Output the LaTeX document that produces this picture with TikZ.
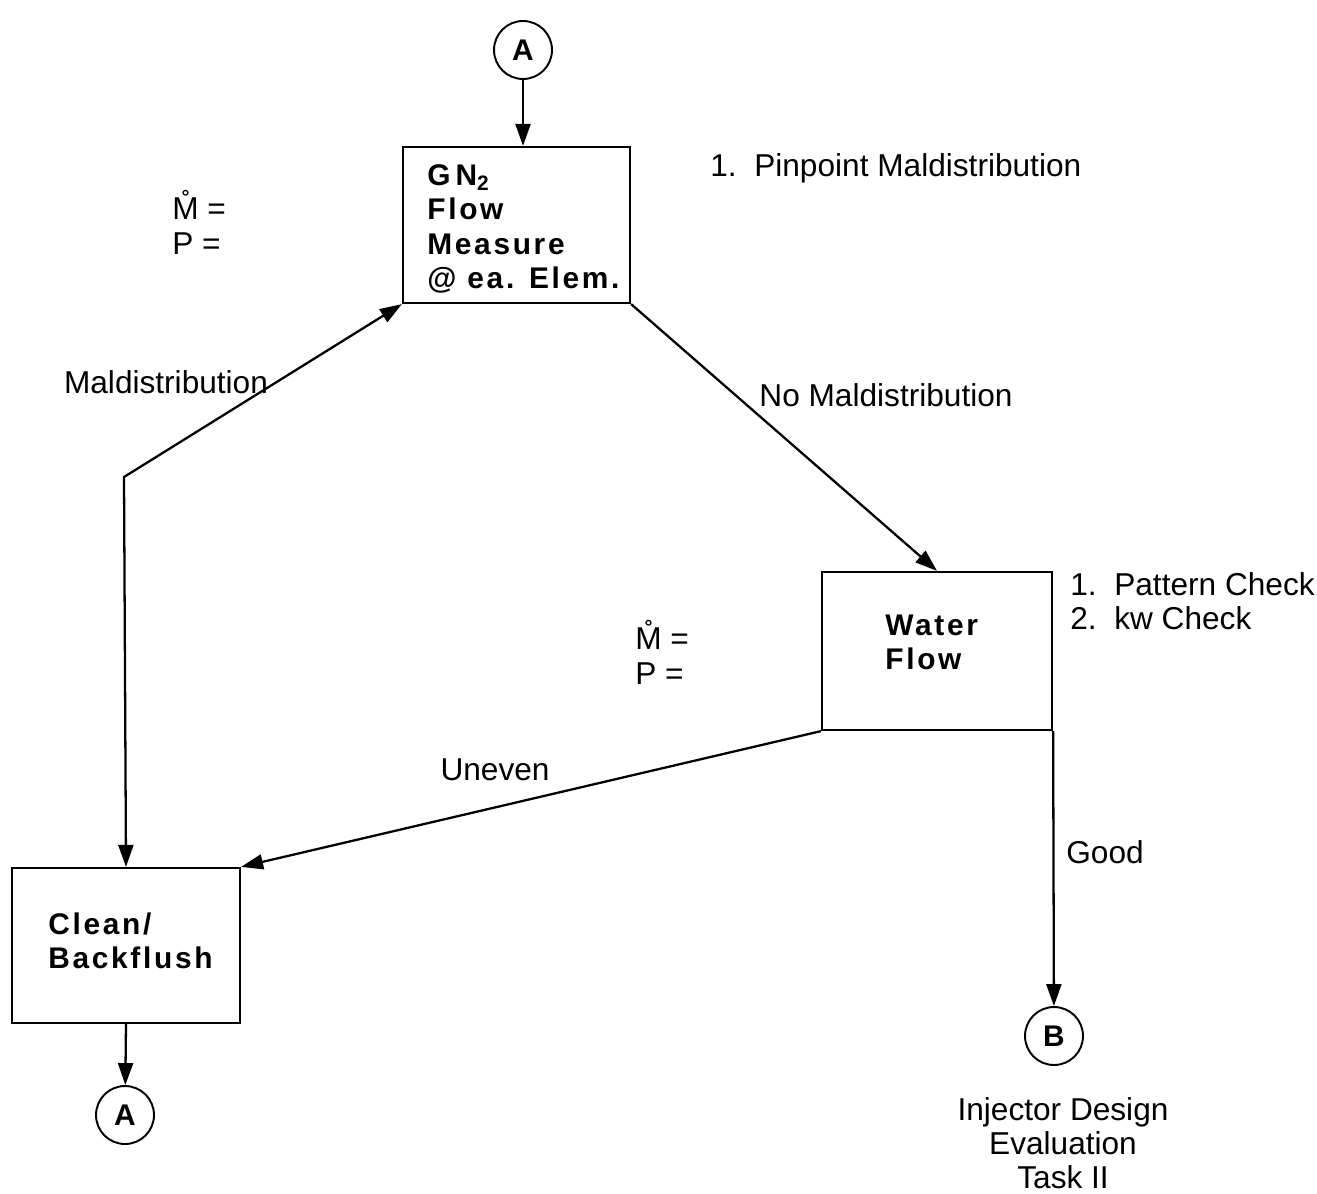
\documentclass[tikz,border=0pt]{standalone}
\usepackage{fontspec}
\setmainfont{Liberation Sans}
\newfontfamily\boxfont[LetterSpace=9]{Liberation Sans}
\usetikzlibrary{arrows.meta}
\begin{document}
\begin{tikzpicture}[x=0.02cm,y=-0.02cm,
  flowline/.style={line width=1.3pt,-{Triangle[length=0.44cm,width=0.3cm]}},
  bothline/.style={line width=1.3pt,{Triangle[length=0.44cm,width=0.3cm]}-{Triangle[length=0.44cm,width=0.3cm]}},
  stepbox/.style={draw,line width=1.3pt,inner sep=0pt},
  boxtxt/.style={inner sep=0pt,align=left,font=\boxfont\bfseries\fontsize{17}{19.5}\selectfont},
  conn/.style={draw,circle,line width=1.1pt,minimum size=1.16cm,inner sep=0pt,font=\bfseries\fontsize{17}{19}\selectfont},
  txt/.style={font=\fontsize{18}{19.5}\selectfont,inner sep=0pt}
]
\useasboundingbox (0,0) rectangle (1317,1193);
% connectors
\node[conn] (atop) at (523,50) {A};
\node[conn] (abot) at (125,1115) {A};
\node[conn] (b) at (1054,1036) {B};
% boxes
\node[stepbox,minimum width=4.54cm,minimum height=3.12cm] (gn) at (516.5,225) {};
\node[stepbox,minimum width=4.6cm,minimum height=3.16cm] (water) at (937,651) {};
\node[stepbox,minimum width=4.56cm,minimum height=3.1cm] (clean) at (126,945.5) {};
\node[boxtxt,anchor=west] (gnlbl) at (427,229) {G\,N\textsubscript{2}\\Flow\\Measure\\@ ea. Elem.};
\node[boxtxt,anchor=west] (waterlbl) at (885,642) {Water\\Flow};
\node[boxtxt,anchor=west] (cleanlbl) at (48,941) {Clean/\\Backflush};
\coordinate (bend) at (124,477);
% arrows
\draw[flowline] (atop) -- (gn.north -| atop);
\draw[bothline] (clean.north) -- (bend) -- (gn.south west);
\draw[flowline] (gn.south east) -- (water.north);
\draw[flowline] (water.south west) -- (clean.north east);
\draw[flowline] (water.south east) -- (b);
\draw[flowline] (clean.south) -- (abot);
% texts
\node[txt,anchor=west] (pin) at (710,168) {1.\ \ Pinpoint Maldistribution};
\node[txt,anchor=west,align=left] (m1) at (172,222) {\r{M} =\\P =};
\node[txt,anchor=west,align=left] (m2) at (635,652) {\r{M} =\\P =};
\node[txt,anchor=west,align=left] (chk) at (1070,601) {1.\ \ Pattern Check\\2.\ \ kw Check};
\node[txt] (mal) at (166,382) {Maldistribution};
\node[txt] (nomal) at (886,395) {No Maldistribution};
\node[txt] (unev) at (495,770) {Uneven};
\node[txt] (good) at (1105,852) {Good};
\node[txt,align=center] (inj) at (1063,1143) {Injector Design\\Evaluation\\Task II};
\end{tikzpicture}
\end{document}
